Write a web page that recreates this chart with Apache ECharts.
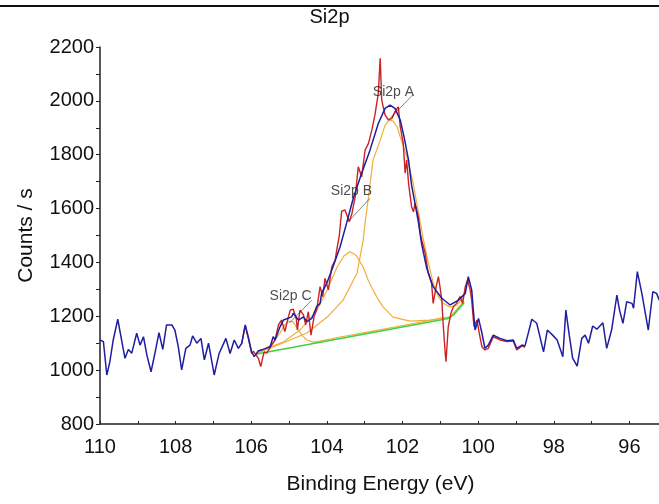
<!DOCTYPE html>
<html>
<head>
<meta charset="utf-8">
<script src="https://cdn.jsdelivr.net/npm/echarts@6/dist/echarts.min.js"></script>
<style>html,body{margin:0;padding:0;background:#fff}#c{width:659px;height:504px}</style>
</head>
<body>
<div id="c"></div>
<script>
// Binding energy (eV), counts/s
const blueLeft = [[110.00,1112],[109.91,1106],[109.82,982],[109.74,1031],[109.65,1112],[109.53,1189],[109.43,1112],[109.34,1044],[109.25,1077],[109.16,1063],[109.03,1137],[108.94,1093],[108.85,1124],[108.76,1056],[108.65,994],[108.54,1068],[108.44,1139],[108.34,1077],[108.24,1168],[108.10,1168],[108.02,1149],[107.93,1087],[107.84,1001],[107.73,1081],[107.62,1093],[107.55,1127],[107.44,1100],[107.33,1118],[107.24,1038],[107.13,1100],[106.98,982],[106.85,1062],[106.67,1118],[106.56,1062],[106.45,1112],[106.34,1081],[106.25,1100],[106.16,1168],[106.08,1124],[105.99,1068],[105.92,1050],[105.81,1072]];
const envelope = [[105.69,1077],[105.50,1087],[105.42,1124],[105.37,1112],[105.24,1161],[105.15,1186],[105.11,1180],[104.93,1198],[104.89,1211],[104.75,1186],[104.62,1198],[104.53,1180],[104.40,1192],[104.36,1205],[104.27,1236],[104.18,1248],[104.14,1285],[104.00,1324],[103.83,1387],[103.65,1458],[103.48,1545],[103.30,1639],[103.08,1731],[102.86,1817],[102.64,1916],[102.46,1972],[102.33,1984],[102.20,1972],[102.06,1929],[101.96,1867],[101.84,1780],[101.76,1687],[101.67,1620],[101.58,1550],[101.49,1465],[101.36,1379],[101.19,1310],[100.96,1267],[100.74,1242],[100.52,1260],[100.34,1285]];
const blueRight = [[100.26,1347],[100.17,1298],[100.12,1211],[100.08,1149],[99.99,1192],[99.90,1138],[99.82,1081],[99.73,1093],[99.60,1130],[99.42,1118],[99.24,1109],[99.07,1112],[98.98,1081],[98.84,1093],[98.76,1090],[98.58,1189],[98.45,1174],[98.27,1068],[98.17,1149],[98.03,1130],[97.91,1112],[97.76,1050],[97.68,1223],[97.59,1130],[97.50,1045],[97.38,1015],[97.26,1118],[97.17,1130],[97.08,1100],[96.97,1164],[96.86,1152],[96.70,1176],[96.60,1081],[96.47,1149],[96.33,1279],[96.26,1223],[96.17,1174],[96.07,1254],[95.93,1248],[95.89,1230],[95.79,1366],[95.67,1285],[95.50,1149],[95.38,1291],[95.28,1285],[95.21,1260]];
const measured = [[106.25,1100],[106.16,1165],[106.08,1120],[105.99,1062],[105.94,1070],[105.81,1044],[105.75,1013],[105.66,1068],[105.59,1063],[105.46,1093],[105.37,1112],[105.28,1168],[105.20,1186],[105.11,1143],[105.05,1180],[104.97,1223],[104.89,1226],[104.81,1192],[104.78,1149],[104.71,1223],[104.62,1205],[104.56,1168],[104.49,1217],[104.42,1130],[104.34,1198],[104.27,1223],[104.18,1310],[104.11,1273],[104.05,1341],[103.96,1298],[103.87,1384],[103.78,1409],[103.74,1446],[103.67,1500],[103.61,1590],[103.52,1595],[103.41,1551],[103.34,1580],[103.25,1644],[103.17,1755],[103.08,1718],[102.99,1817],[102.90,1842],[102.81,1892],[102.73,1947],[102.64,2028],[102.59,2158],[102.55,2003],[102.46,1947],[102.37,1929],[102.28,1935],[102.20,1960],[102.11,1978],[102.06,1904],[101.98,1842],[101.93,1731],[101.89,1780],[101.84,1694],[101.80,1650],[101.76,1607],[101.71,1588],[101.67,1619],[101.58,1570],[101.53,1508],[101.49,1483],[101.40,1434],[101.32,1360],[101.23,1322],[101.19,1248],[101.11,1310],[101.05,1347],[101.01,1310],[100.96,1260],[100.92,1161],[100.87,1062],[100.85,1031],[100.79,1161],[100.72,1211],[100.65,1236],[100.57,1248],[100.48,1273],[100.41,1248],[100.34,1310],[100.28,1335],[100.21,1298],[100.17,1260],[100.11,1161],[100.03,1186],[99.97,1137],[99.90,1087],[99.82,1075],[99.73,1081],[99.60,1124],[99.42,1112],[99.24,1106],[99.07,1108],[98.98,1075],[98.84,1090],[98.76,1085]];
const compA = [[105.85,1060],[105.77,1067],[105.16,1101],[104.53,1138],[103.99,1197],[103.57,1260],[103.39,1309],[103.20,1361],[103.04,1483],[102.99,1546],[102.91,1632],[102.78,1780],[102.59,1854],[102.46,1910],[102.35,1929],[102.25,1925],[102.14,1903],[102.06,1866],[101.88,1791],[101.72,1695],[101.59,1595],[101.46,1494],[101.32,1401],[101.19,1324],[101.06,1275],[100.93,1249],[100.74,1234],[100.56,1242],[100.37,1272]];
const compB = [[105.85,1064],[105.69,1075],[105.16,1104],[104.71,1149],[104.26,1223],[103.99,1298],[103.73,1383],[103.55,1424],[103.39,1440],[103.23,1427],[103.04,1383],[102.91,1335],[102.78,1298],[102.65,1264],[102.51,1234],[102.25,1197],[101.80,1182],[101.27,1186],[100.93,1194],[100.74,1197],[100.37,1257]];
const compC = [[105.85,1064],[105.63,1078],[105.42,1101],[105.24,1138],[105.11,1168],[105.00,1182],[104.89,1179],[104.79,1156],[104.66,1130],[104.53,1112],[104.37,1104],[104.18,1108],[103.65,1123],[102.86,1143],[102.06,1164],[100.93,1194],[100.74,1197],[100.37,1253]];
const backgroundLine = [[105.85,1060],[100.79,1192],[100.65,1205],[100.37,1250]];
const peakNames = ['Si2p A','Si2p B','Si2p C'];
const peakLabelPos = [[102.24,2034],[103.35,1663],[104.96,1275]];
const peakLeaderFrom = [[101.73,2022],[102.86,1638],[104.40,1260]];
const peakLeaderTo = [[102.33,1935],[103.41,1555],[105.00,1174]];

const FONT = "'Liberation Sans', Arial, sans-serif";
const chart = echarts.init(document.getElementById('c'), null, {renderer: 'canvas'});
const lineS = (name, data, color, width, z) => ({
  name, type: 'line', data, showSymbol: false, symbol: 'none', z,
  lineStyle: {color, width}, itemStyle: {color}, animation: false, clip: true
});
chart.setOption({
  animation: false,
  backgroundColor: '#fff',
  title: {text: 'Si2p', left: 'center', top: 7, padding: 0,
    textStyle: {fontFamily: FONT, fontSize: 20, fontWeight: 'normal', color: '#111'}},
  grid: {left: 100, right: -46, top: 47, bottom: 80, containLabel: false, outerBoundsMode: 'none'},
  xAxis: {
    type: 'value', inverse: true, min: 94, max: 110, interval: 2,
    name: 'Binding Energy (eV)', nameLocation: 'middle', nameGap: 50,
    nameTextStyle: {fontFamily: FONT, fontSize: 21, color: '#111', padding: [0, 44, 0, 0]},
    axisLine: {show: true, lineStyle: {color: '#222', width: 1.5}},
    axisTick: {show: true, inside: true, length: 3, lineStyle: {color: '#222'}},
    minorTick: {show: true, splitNumber: 2, length: 3, lineStyle: {color: '#222'}},
    axisLabel: {fontFamily: FONT, fontSize: 20, color: '#111', margin: 13, formatter: v => String(v)},
    splitLine: {show: false}, minorSplitLine: {show: false}
  },
  yAxis: {
    type: 'value', min: 800, max: 2200, interval: 200,
    name: 'Counts / s', nameLocation: 'middle', nameGap: 63,
    nameTextStyle: {fontFamily: FONT, fontSize: 21, color: '#111'},
    axisLine: {show: true, lineStyle: {color: '#222', width: 1.5}},
    axisTick: {show: true, inside: false, length: 4, lineStyle: {color: '#222'}},
    minorTick: {show: true, splitNumber: 2, length: 4, lineStyle: {color: '#222'}},
    axisLabel: {fontFamily: FONT, fontSize: 20, color: '#111', margin: 6, formatter: v => String(v)},
    splitLine: {show: false}, minorSplitLine: {show: false}
  },
  graphic: [{type: 'line', shape: {x1: 0, y1: 6, x2: 659, y2: 6}, style: {stroke: '#111', lineWidth: 2}}],
  series: [
    lineS('Si2p A', compA, '#F0AE3C', 1.2, 2),
    lineS('Si2p B', compB, '#F0AE3C', 1.2, 2),
    lineS('Si2p C', compC, '#F0AE3C', 1.2, 2),
    lineS('Background', backgroundLine, '#3ED23E', 1.6, 3),
    lineS('Data', measured, '#CC2222', 1.4, 4),
    lineS('Envelope', blueLeft.concat(envelope, blueRight), '#1E1EA0', 1.5, 5),
    {
      type: 'lines', coordinateSystem: 'cartesian2d', z: 6, silent: true,
      lineStyle: {color: '#111', width: 1},
      data: peakNames.map((n, i) => ({coords: [peakLeaderFrom[i], peakLeaderTo[i]]}))
    },
    {
      type: 'scatter', z: 7, symbolSize: 0, silent: true,
      data: peakNames.map((n, i) => ({name: n, value: peakLabelPos[i]})),
      label: {show: true, position: 'inside', formatter: p => p.name,
        fontFamily: FONT, fontSize: 14, color: '#222'}
    }
  ]
});
</script>
</body>
</html>
